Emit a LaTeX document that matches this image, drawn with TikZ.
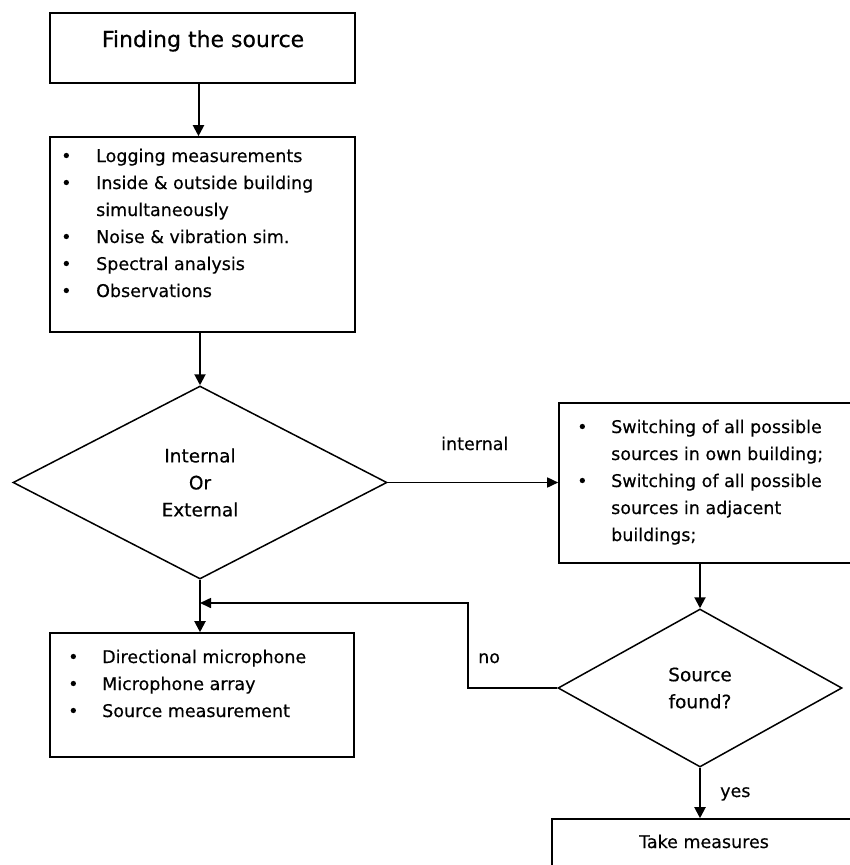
\documentclass[tikz,border=0pt]{standalone}
\usepackage{fontspec}
\setmainfont{DejaVu Sans}[FakeBold=0.4]
\usetikzlibrary{shapes.geometric,arrows.meta}
\begin{document}
\begin{tikzpicture}[x=1pt,y=-1pt,
  box/.style={draw, line width=1.6pt, rectangle, inner sep=0pt},
  dia/.style={draw, line width=1.5pt, diamond, inner sep=0pt, align=center, font=\fontsize{18.5}{27}\selectfont},
  txt/.style={inner sep=0pt, font=\fontsize{17.5}{27}\selectfont},
  arr/.style={line width=2pt, -{Triangle[length=11pt,width=11pt]}},
  thinarr/.style={line width=1.6pt, -{Triangle[length=11pt,width=10pt]}}]
\useasboundingbox (0,0) rectangle (850,865);
% boxes
\node[box, minimum width=305pt, minimum height=70pt] (b1) at (202.5,48) {};
\node[box, minimum width=305pt, minimum height=195pt] (b2) at (202.5,234.5) {};
\node[box, minimum width=311pt, minimum height=160pt] (b3) at (714.5,483) {};
\node[box, minimum width=304pt, minimum height=124pt] (b4) at (202,695) {};
\node[box, minimum width=318pt, minimum height=81pt] (b5) at (711,859.5) {};
% diamonds
\node[dia, minimum width=374pt, minimum height=193pt] (d1) at (200,482.5) {Internal\\Or\\External};
\node[dia, minimum width=284pt, minimum height=158pt] (d2) at (700,688) {Source\\found?};
% texts
\node[txt, font=\fontsize{22}{27}\selectfont, anchor=base] (t1) at (203,47) {Finding the source};
\node[txt, anchor=base west] (t2) at (61,162) {\begin{tabular}[t]{@{}p{35pt}@{}l@{}}
\textbullet & Logging measurements\\
\textbullet & Inside \& outside building\\
 & simultaneously\\
\textbullet & Noise \& vibration sim.\\
\textbullet & Spectral analysis\\
\textbullet & Observations
\end{tabular}};
\node[txt, anchor=base west] (t3) at (577,433) {\begin{tabular}[t]{@{}p{34pt}@{}l@{}}
\textbullet & Switching of all possible\\
 & sources in own building;\\
\textbullet & Switching of all possible\\
 & sources in adjacent\\
 & buildings;
\end{tabular}};
\node[txt, anchor=base west] (t4) at (68,663) {\begin{tabular}[t]{@{}p{34pt}@{}l@{}}
\textbullet & Directional microphone\\
\textbullet & Microphone array\\
\textbullet & Source measurement
\end{tabular}};
\node[txt, anchor=base] (t5) at (704,848) {Take measures};
% labels
\node[txt, anchor=base west] (lint) at (441,450) {internal};
\node[txt, anchor=base west] (lno) at (478,663) {no};
\node[txt, anchor=base west] (lyes) at (720,797) {yes};
% connectors
\coordinate (k) at (468,603);
\coordinate (j) at (200,603);
\draw[arr] ([xshift=-4pt]b1.south) -- ([xshift=-4pt]b1.south |- b2.north);
\draw[arr] (b2.south -| d1.north) -- (d1.north);
\draw[thinarr] (d1.east) -- (d1.east -| b3.west);
\draw[arr] (b3.south -| d2.north) -- (d2.north);
\draw[arr] (d1.south) -- (d1.south |- b4.north);
\draw[thinarr] (d2.west) -| (k) -- (j);
\draw[arr] (d2.south) -- (d2.south |- b5.north);
\end{tikzpicture}
\end{document}
